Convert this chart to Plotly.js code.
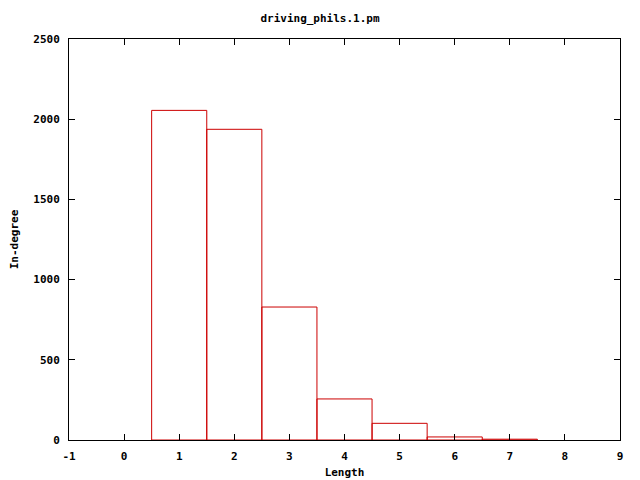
<!DOCTYPE html>
<html>
<head>
<meta charset="utf-8">
<script src="https://cdn.plot.ly/plotly-3.0.1.min.js"></script>
<style>html,body{margin:0;padding:0;background:#fff;}#chart{width:640px;height:480px;}</style>
</head>
<body>
<div id="chart"></div>
<script>
const lengths = [1, 2, 3, 4, 5, 6, 7];
const inDegree = [2055, 1937, 829, 256, 104, 19, 5];
const xTicks = [-1, 0, 1, 2, 3, 4, 5, 6, 7, 8, 9];
const yTicks = [0, 500, 1000, 1500, 2000, 2500];

const fnt = {family: '"DejaVu Sans Mono", monospace', size: 11, color: '#000', weight: 'bold'};

const trace = {
  type: 'bar',
  x: lengths,
  y: inDegree,
  width: 1,
  marker: {color: 'rgba(255,255,255,0)', line: {color: '#cc0000', width: 1}},
  hoverinfo: 'x+y'
};

const layout = {
  width: 640, height: 480,
  margin: {l: 69, r: 20, t: 39, b: 40},
  paper_bgcolor: '#fff', plot_bgcolor: '#fff',
  showlegend: false,
  font: fnt,
  title: {text: 'driving_phils.1.pm', font: fnt, x: 0.5, xanchor: 'center', y: 0.962, yanchor: 'middle'},
  xaxis: {
    range: [-1, 9], tickvals: xTicks, ticktext: xTicks.map(String),
    ticks: 'inside', ticklen: 6, tickcolor: '#000', tickwidth: 1,
    showline: true, linecolor: '#000', linewidth: 1, mirror: 'ticks',
    showgrid: false, zeroline: false, tickfont: fnt, ticklabelstandoff: 6,
    title: {text: 'Length', font: fnt, standoff: 6}
  },
  yaxis: {
    range: [0, 2500], tickvals: yTicks, ticktext: yTicks.map(String),
    ticks: 'inside', ticklen: 6, tickcolor: '#000', tickwidth: 1,
    showline: true, linecolor: '#000', linewidth: 1, mirror: 'ticks',
    showgrid: false, zeroline: false, tickfont: fnt, ticklabelstandoff: 6,
    title: {text: 'In-degree', font: fnt, standoff: 12}
  }
};

Plotly.newPlot('chart', [trace], layout, {displayModeBar: false, staticPlot: true});
</script>
</body>
</html>
